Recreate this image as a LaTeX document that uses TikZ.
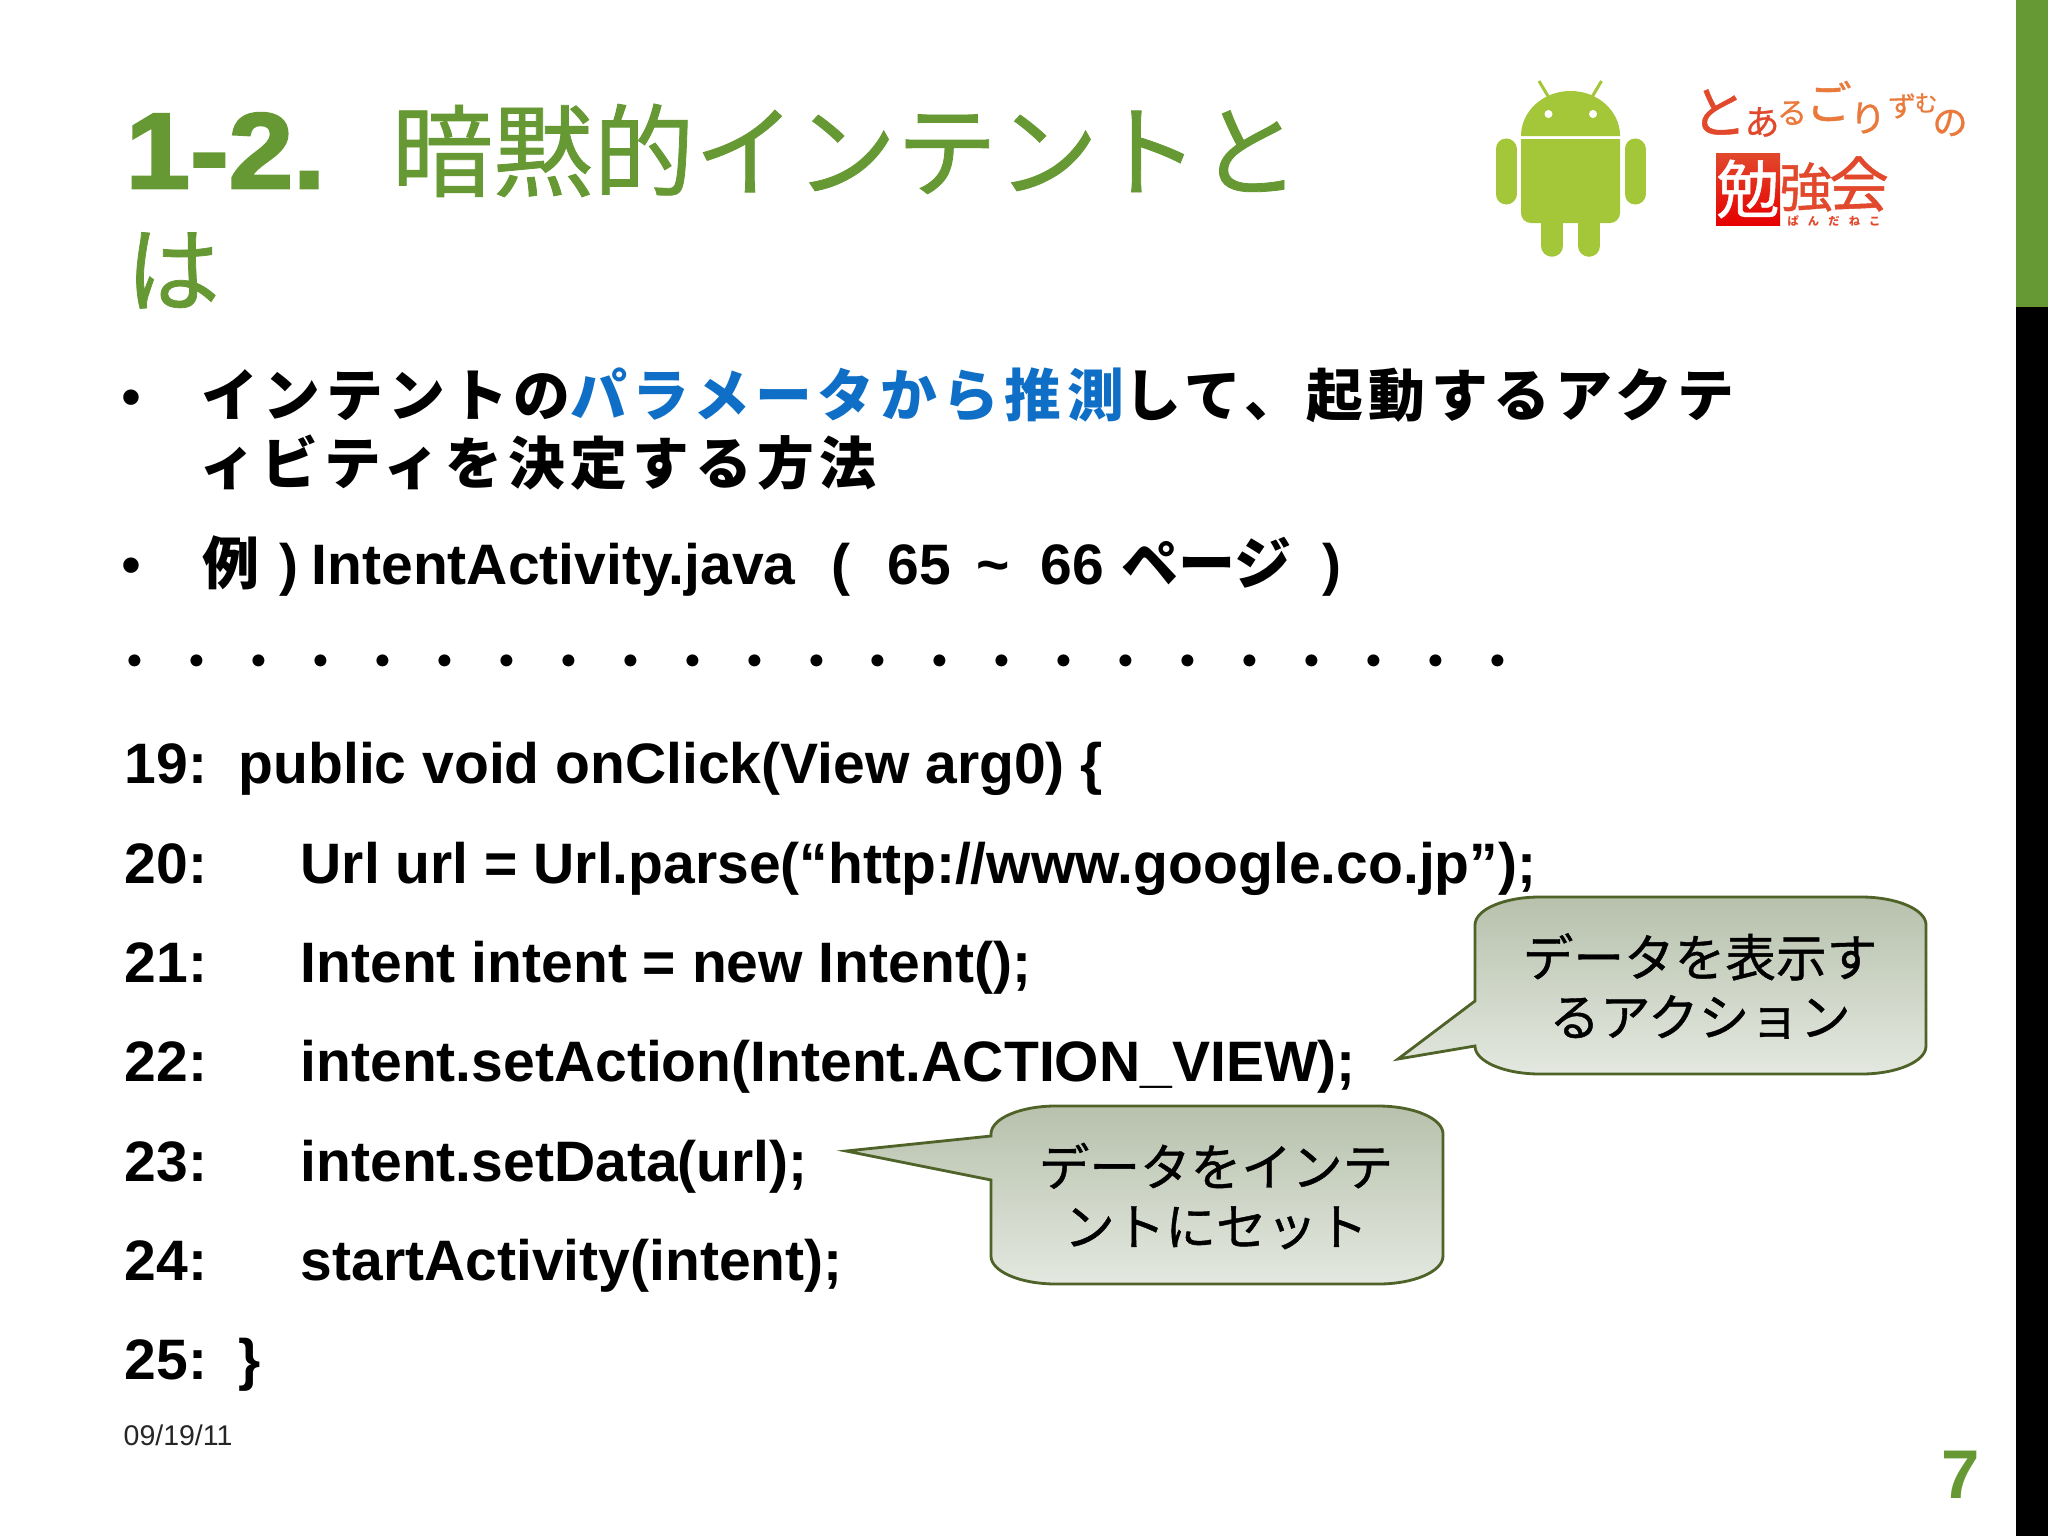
\documentclass[tikz,border=0pt]{standalone}
\usepackage{fontspec}
\usepackage{xcolor}
\usetikzlibrary{positioning}
\setmainfont{Liberation Sans}
\newfontfamily\cjk{Noto Sans CJK JP}
\newfontfamily\cjkwide[LetterSpace=9.7]{Noto Sans CJK JP}
\newfontfamily\cjkdots[LetterSpace=9]{Noto Sans CJK JP}
\newfontfamily\cjkheavy[FakeBold=0.8]{Noto Sans CJK JP}
\newfontfamily\numheavy[FakeBold=2.5,FakeStretch=1.08]{Liberation Sans Bold}
\definecolor{slidegreen}{HTML}{669933}
\definecolor{droidgreen}{HTML}{A4C639}
\definecolor{slideblue}{HTML}{0F6FC6}
\definecolor{noteedge}{HTML}{4F6228}
\definecolor{logored}{HTML}{E2492C}
\definecolor{logoorange}{HTML}{EA7A3C}
\definecolor{noteTop}{HTML}{B7C1AC}
\definecolor{noteBottom}{HTML}{E4E8E0}
\tikzset{%
	title/.style      = {anchor=base west,inner sep=0pt,text=slidegreen},
	body/.style       = {anchor=base west,inner sep=0pt,font=\fontsize{16.22pt}{19pt}\selectfont\bfseries},
	wide/.style       = {body,font=\fontsize{16.16pt}{19pt}\selectfont\cjkwide\bfseries},
	dotrow/.style     = {body,font=\fontsize{16.16pt}{19pt}\selectfont\cjkdots},
	bulletmark/.style = {anchor=base west,inner sep=0pt,font=\fontsize{16.16pt}{19pt}\selectfont},
	notebox/.style    = {draw=noteedge,line width=0.8pt,top color=noteTop,bottom color=noteBottom},
	notetext/.style   = {align=center,inner sep=0pt,font=\fontsize{14.4pt}{16.93pt}\selectfont\cjkheavy},
	logo/.style       = {anchor=center,inner sep=0pt},
}
\newcommand{\logochar}[2]{\fontsize{#1}{#1}\selectfont\cjkheavy #2}
\begin{document}
\begin{tikzpicture}[x=0.01cm,y=-0.01cm]
	\useasboundingbox (0,0) rectangle (2048,1536);
	\fill[white] (0,0) rectangle (2048,1536);
	\fill[slidegreen] (2016,0) rectangle (2048,307);  % side bar
	\fill[black] (2016,307) rectangle (2048,1536);
	% title
	\node[title,font=\fontsize{30.5pt}{36pt}\selectfont\numheavy] (titlenum) at (125,188) {1-2.};
	\node[title,font=\fontsize{28.7pt}{36pt}\selectfont\cjkheavy] (titleone) at (391,189) {暗黙的インテントと};
	\node[title,font=\fontsize{26.8pt}{36pt}\selectfont\cjkheavy] (titletwo) at (125,305) {は};
	% droid
	\fill[droidgreen] (1521,136) arc[start angle=180,end angle=0,x radius=0.495cm,y radius=0.45cm] -- cycle;
	\fill[droidgreen] (1521,139) [rounded corners=0.1cm] -- (1521,223) -- (1620,223) [sharp corners] -- (1620,139) -- cycle;
	\draw[droidgreen,line width=0.21cm,line cap=round] (1506,149) -- (1506,194);
	\draw[droidgreen,line width=0.21cm,line cap=round] (1635,149) -- (1635,194);
	\draw[droidgreen,line width=0.215cm,line cap=round] (1552,215) -- (1552,246);
	\draw[droidgreen,line width=0.215cm,line cap=round] (1589,215) -- (1589,246);
	\draw[droidgreen,line width=0.03cm] (1539,81) -- (1548.5,97);
	\draw[droidgreen,line width=0.03cm] (1601.5,81) -- (1592,97);
	\fill[white] (1548.5,114) circle[radius=0.04cm];
	\fill[white] (1593,114) circle[radius=0.04cm];
	% logo
	\node[logo,text=logored] (logoa) at (1719,112) {\logochar{16pt}{と}};
	\node[logo,text=logored] (logob) at (1762,122) {\logochar{10pt}{あ}};
	\node[logo,text=logoorange] (logoc) at (1792,113) {\logochar{8.5pt}{る}};
	\node[logo,text=logoorange] (logod) at (1829,101) {\logochar{13pt}{ご}};
	\node[logo,text=logoorange] (logoe) at (1868,118) {\logochar{10.5pt}{り}};
	\node[logo,text=logoorange] (logof) at (1902,106) {\logochar{8pt}{ず}};
	\node[logo,text=logoorange] (logog) at (1926,103) {\logochar{6.5pt}{む}};
	\node[logo,text=logoorange] (logoh) at (1950,123) {\logochar{10pt}{の}};
	\path[top color=logored,bottom color=red!90!black] (1716,153) rectangle (1780,225);
	\node[logo,text=white] (logoi) at (1748,189) {\logochar{18pt}{勉}};
	\node[logo,text=logored] (logoj) at (1806,187) {\logochar{15pt}{強}};
	\node[logo,text=logored] (logok) at (1859,184) {\logochar{17pt}{会}};
	\node[logo,text=logored] (logol) at (1834,221) {\fontsize{3.2pt}{3.4pt}\selectfont\cjk\bfseries ぱ\hspace{2.6pt}ん\hspace{2.6pt}だ\hspace{2.6pt}ね\hspace{2.6pt}こ};
	% bullets
	\node[bulletmark] (bulletone) at (121,416) {•};
	\node[wide] (lineone) at (201,416) {インテントの\textcolor{slideblue}{パラメータから推測}して、起動するアクテ};
	\node[wide] (linetwo) at (199,484) {ィビティを決定する方法};
	\node[bulletmark] (bullettwo) at (121,584) {•};
	\node[body] (lrei) at (202,584) {\cjk 例};
	\node[body] (lreb) at (279,584) {)};
	\node[body] (lfile) at (311,584) {IntentActivity.java};
	\node[body] (lopen) at (831,584) {(};
	\node[body] (lfrom) at (887,584) {65};
	\node[body] (ltilde) at (976,584) {\textasciitilde};
	\node[body] (lto) at (1040,584) {66};
	\node[body] (lpage) at (1121,584) {\cjk ページ};
	\node[body] (lclose) at (1322,584) {)};
	\node[dotrow] (dots) at (106,682) {・・・・・・・・・・・・・・・・・・・・・・・};
	% code
	\node[body] (numa) at (124,783) {19:};
	\node[body] (codea) at (238,783) {public void onClick(View arg0) \{};
	\node[body] (numb) at (124,883) {20:};
	\node[body] (codeb) at (300,883) {Url url = Url.parse(“http://www.google.co.jp”);};
	\node[body] (numc) at (124,982) {21:};
	\node[body] (codec) at (300,982) {Intent intent = new Intent();};
	\node[body] (numd) at (124,1081) {22:};
	\node[body] (coded) at (300,1081) {intent.setAction(Intent.ACTION\_VIEW);};
	\node[body] (nume) at (124,1181) {23:};
	\node[body] (codee) at (300,1181) {intent.setData(url);};
	\node[body] (numf) at (124,1280) {24:};
	\node[body] (codef) at (300,1280) {startActivity(intent);};
	\node[body] (numg) at (124,1379) {25:};
	\node[body] (codeg) at (238,1379) {\}};
	% notes
	\path[notebox] (1475,925) arc[start angle=180,end angle=90,x radius=0.65cm,y radius=0.28cm] -- (1861,897)
		arc[start angle=90,end angle=0,x radius=0.65cm,y radius=0.28cm] -- (1926,1046)
		arc[start angle=0,end angle=-90,x radius=0.65cm,y radius=0.28cm] -- (1540,1074)
		arc[start angle=-90,end angle=-180,x radius=0.65cm,y radius=0.28cm] -- (1398,1059) -- (1475,1001) -- cycle;
	\node[notetext] (actionnote) at (1700,986) {データを表示す\\るアクション};
	\path[notebox] (991,1134) arc[start angle=180,end angle=90,x radius=0.65cm,y radius=0.28cm] -- (1378,1106)
		arc[start angle=90,end angle=0,x radius=0.65cm,y radius=0.28cm] -- (1443,1256)
		arc[start angle=0,end angle=-90,x radius=0.65cm,y radius=0.28cm] -- (1056,1284)
		arc[start angle=-90,end angle=-180,x radius=0.65cm,y radius=0.28cm] -- (991,1180) -- (846,1151) -- (991,1136) -- cycle;
	\node[notetext] (datanote) at (1216,1196) {データをインテ\\ントにセット};
	% footer
	\node[anchor=base west,inner sep=0pt,font=\fontsize{8.1pt}{9pt}\selectfont,text=black!85] (datelabel) at (123,1445) {09/19/11};
	\node[anchor=base east,inner sep=0pt,font=\fontsize{19.6pt}{24pt}\selectfont\bfseries,text=slidegreen] (pagenum) at (1981,1498) {7};
\end{tikzpicture}
\end{document}
